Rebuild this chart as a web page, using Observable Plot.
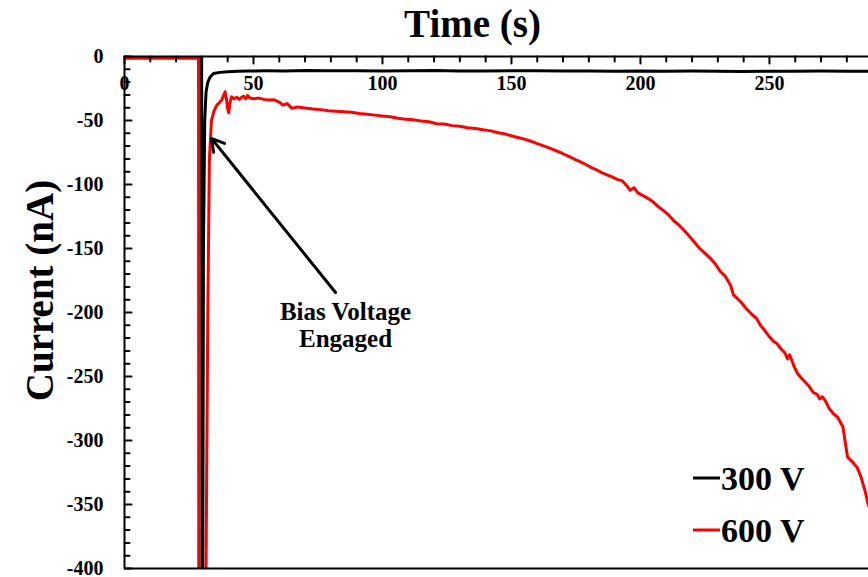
<!DOCTYPE html>
<html>
<head>
<meta charset="utf-8">
<script src="https://cdn.jsdelivr.net/npm/d3@7"></script>
<script src="https://cdn.jsdelivr.net/npm/@observablehq/plot@0.6"></script>
<style>
  body { margin: 0; background: #fff; }
</style>
</head>
<body>
<div id="chart"></div>
<script>
// Current transients after the bias voltage is switched on (values below -400 run off the frame)
const time300 = [0, 29.9, 30.0, 30.3, 30.6, 31.1, 31.6, 32.3, 33.2, 34.5, 37, 40, 44, 48, 55, 62, 70, 80, 90, 100, 110, 120, 130, 140, 150, 160, 170, 180, 190, 200, 210, 220, 230, 240, 250, 260, 270, 280, 288.4];
const current300 = [0, 0, -450, -450, -150, -50, -28, -20, -16, -13.3, -12.4, -12, -11.6, -11.4, -11.2, -11.3, -11.0, -11.2, -11.1, -11.3, -11.2, -11.0, -11.3, -11.4, -11.2, -11.1, -11.4, -11.3, -11.5, -11.3, -11.6, -11.4, -11.5, -11.7, -11.5, -11.6, -11.4, -11.6, -11.5];

const time600 = [0, 28.7, 28.8, 31.3, 31.6, 32.3, 32.9, 33.7, 34.8, 35.8, 36.8, 37.7, 38.5, 39.0, 39.5, 40.0, 40.4, 40.9, 41.5, 42.5, 43.5, 44.5, 45.3, 46.2, 47.0, 47.7, 48.6, 50, 52, 54, 56, 58, 60, 61.5, 63, 65, 67, 70, 73, 76, 79, 82, 85, 88, 91, 94, 97, 100, 103, 106, 109, 112, 115, 118, 121, 124, 127, 130, 133, 136, 139, 142, 145, 148, 151, 154, 157, 160, 163, 166, 169, 172, 175, 177, 179, 181, 183, 185, 187, 189, 191, 193, 194.5, 196, 197.5, 199, 201, 203, 205, 207, 209, 211, 213, 215, 217, 219, 221, 223, 225, 227, 229, 231, 233, 235, 236, 237.5, 239, 241, 243, 245, 246.5, 248, 250, 251.5, 253, 254.5, 256, 257, 257.8, 258.6, 259.5, 261, 263, 265, 267, 268.5, 269.5, 270.5, 271.7, 273, 274.8, 276.5, 278.5, 279.5, 280.3, 282, 284, 285.5, 287, 288.4];
const current600 = [-1.3, -1.3, -450, -450, -400, -200, -81, -50, -42, -38, -36, -34, -30, -27.5, -33, -41, -44, -36, -31.5, -33, -31.8, -33.5, -32, -31, -33, -30.5, -32.5, -33, -32.5, -33.5, -34, -33.8, -35.6, -38, -36.8, -40.5, -39.5, -40.2, -41, -41.5, -42.3, -42.8, -43.2, -43.6, -44.6, -45.2, -45.8, -46.5, -47, -48.2, -49, -49.5, -50.4, -51, -52.5, -52.8, -54, -54.5, -55.6, -56.2, -57.3, -58.1, -59.6, -60.8, -62.5, -64, -65.8, -68, -70.2, -72.5, -75, -77.8, -80.7, -82.5, -84.6, -86.8, -88.5, -90.7, -92.4, -94, -96, -97.2, -100.5, -104.5, -102.5, -106.5, -108.7, -111, -113.7, -117.5, -120.5, -124, -128.5, -131.8, -136, -140.5, -145.3, -150, -153.6, -157.5, -162, -168, -172, -179, -186, -189, -192, -197, -201, -204.6, -210, -213.5, -219, -222.5, -224.5, -228.5, -231.5, -236.2, -233, -237, -242, -248, -252.5, -256.8, -262.5, -264, -267.5, -265.8, -269, -274.5, -279, -282, -289.5, -303, -313, -316.5, -321, -328.5, -339, -351];

const seriesNames = ["300 V", "600 V"];
const seriesColors = ["#000000", "#ff0000"];

const xTickLabels = [0, 50, 100, 150, 200, 250];
const yTickLabels = [0, -50, -100, -150, -200, -250, -300, -350, -400];
const xTicksMajor = [0, 50, 100, 150, 200, 250];
const xTicksMinor = d3.range(0, 281, 10).filter(d => d % 50 !== 0);
const yTicksMajor = yTickLabels;
const yTicksMinor = d3.range(-400, 1, 10).filter(d => d % 50 !== 0);

const annotationText = [{t: 85.7, v: -209.4, label: "Bias Voltage\nEngaged"}];
const annotationArrow = [{t1: 81.8, v1: -184.4, t2: 33.7, v2: -64}];

const toRows = (ts, vs) => ts.map((t, i) => ({t, v: vs[i]}));
const rows300 = toRows(time300, current300);
const rows600 = toRows(time600, current600);

const font = "'Liberation Serif', 'Times New Roman', Times, serif";

// A plain tick segment for vector marks (no arrowhead)
const tickShape = {
  draw(context, l) {
    context.moveTo(0, 0);
    context.lineTo(0, -l);
  }
};

// Legend: short line samples followed by the series names, bottom right of the frame
function legend(index, scales, values, dimensions) {
  const g = d3.create("svg:g");
  const right = dimensions.width - dimensions.marginRight;
  const bottom = dimensions.height - dimensions.marginBottom;
  seriesNames.forEach((name, i) => {
    const y = bottom - 90 + i * 52;
    g.append("line")
      .attr("x1", right - 175).attr("x2", right - 148)
      .attr("y1", y).attr("y2", y)
      .attr("stroke", seriesColors[i]).attr("stroke-width", 3);
    g.append("text")
      .attr("x", right - 147).attr("y", y)
      .attr("dy", "0.34em")
      .attr("text-anchor", "start")
      .attr("font-family", font).attr("font-size", 34).attr("font-weight", "bold")
      .attr("fill", "#000")
      .text(name);
  });
  return g.node();
}

const chart = Plot.plot({
  width: 868,
  height: 577,
  marginLeft: 124,
  marginRight: 0,
  marginTop: 56,
  marginBottom: 9,
  style: {fontFamily: font, background: "#fff", overflow: "visible"},
  x: {domain: [0, 288.4], axis: null},
  y: {domain: [-400, 0], axis: null},
  marks: [
    Plot.line(rows300, {x: "t", y: "v", stroke: seriesColors[0], strokeWidth: 3, clip: true, strokeLinejoin: "round"}),
    Plot.line(rows600, {x: "t", y: "v", stroke: seriesColors[1], strokeWidth: 3, clip: true, strokeLinejoin: "round"}),
    // frame edges
    Plot.ruleY([0, -400], {stroke: "#000", strokeWidth: 2}),
    Plot.ruleX([0], {stroke: "#000", strokeWidth: 2}),
    // inward ticks on the top (time) axis
    Plot.vector(xTicksMajor, {x: d => d, y: () => 0, length: 7, rotate: 180, anchor: "start", shape: tickShape, stroke: "#000", strokeWidth: 2}),
    Plot.vector(xTicksMinor, {x: d => d, y: () => 0, length: 5, rotate: 180, anchor: "start", shape: tickShape, stroke: "#000", strokeWidth: 2}),
    // inward ticks on the left (current) axis
    Plot.vector(yTicksMajor, {x: () => 0, y: d => d, length: 7, rotate: 90, anchor: "start", shape: tickShape, stroke: "#000", strokeWidth: 2}),
    Plot.vector(yTicksMinor, {x: () => 0, y: d => d, length: 5, rotate: 90, anchor: "start", shape: tickShape, stroke: "#000", strokeWidth: 2}),
    // tick labels
    Plot.text(xTickLabels, {x: d => d, frameAnchor: "top", lineAnchor: "middle", dy: 27, text: d => String(d), fontSize: 20, fontWeight: "bold", fill: "#000"}),
    Plot.text(yTickLabels, {y: d => d, frameAnchor: "left", lineAnchor: "middle", dx: -21, textAnchor: "end", text: d => String(d), fontSize: 20, fontWeight: "bold", fill: "#000"}),
    // axis titles
    Plot.text(["Time (s)"], {frameAnchor: "top-left", lineAnchor: "middle", dx: 348, dy: -32, text: d => d, textAnchor: "middle", fontSize: 39, fontWeight: "bold", fill: "#000"}),
    Plot.text(["Current (nA)"], {frameAnchor: "left", lineAnchor: "middle", dx: -84, dy: -22, rotate: -90, text: d => d, textAnchor: "middle", fontSize: 39, fontWeight: "bold", fill: "#000"}),
    // annotation
    Plot.arrow(annotationArrow, {x1: "t1", y1: "v1", x2: "t2", y2: "v2", stroke: "#000", strokeWidth: 3, headLength: 7}),
    Plot.text(annotationText, {x: "t", y: "v", text: "label", lineHeight: 1.12, fontSize: 25, fontWeight: "bold", fill: "#000"}),
    legend
  ]
});

document.getElementById("chart").append(chart);
</script>
</body>
</html>
